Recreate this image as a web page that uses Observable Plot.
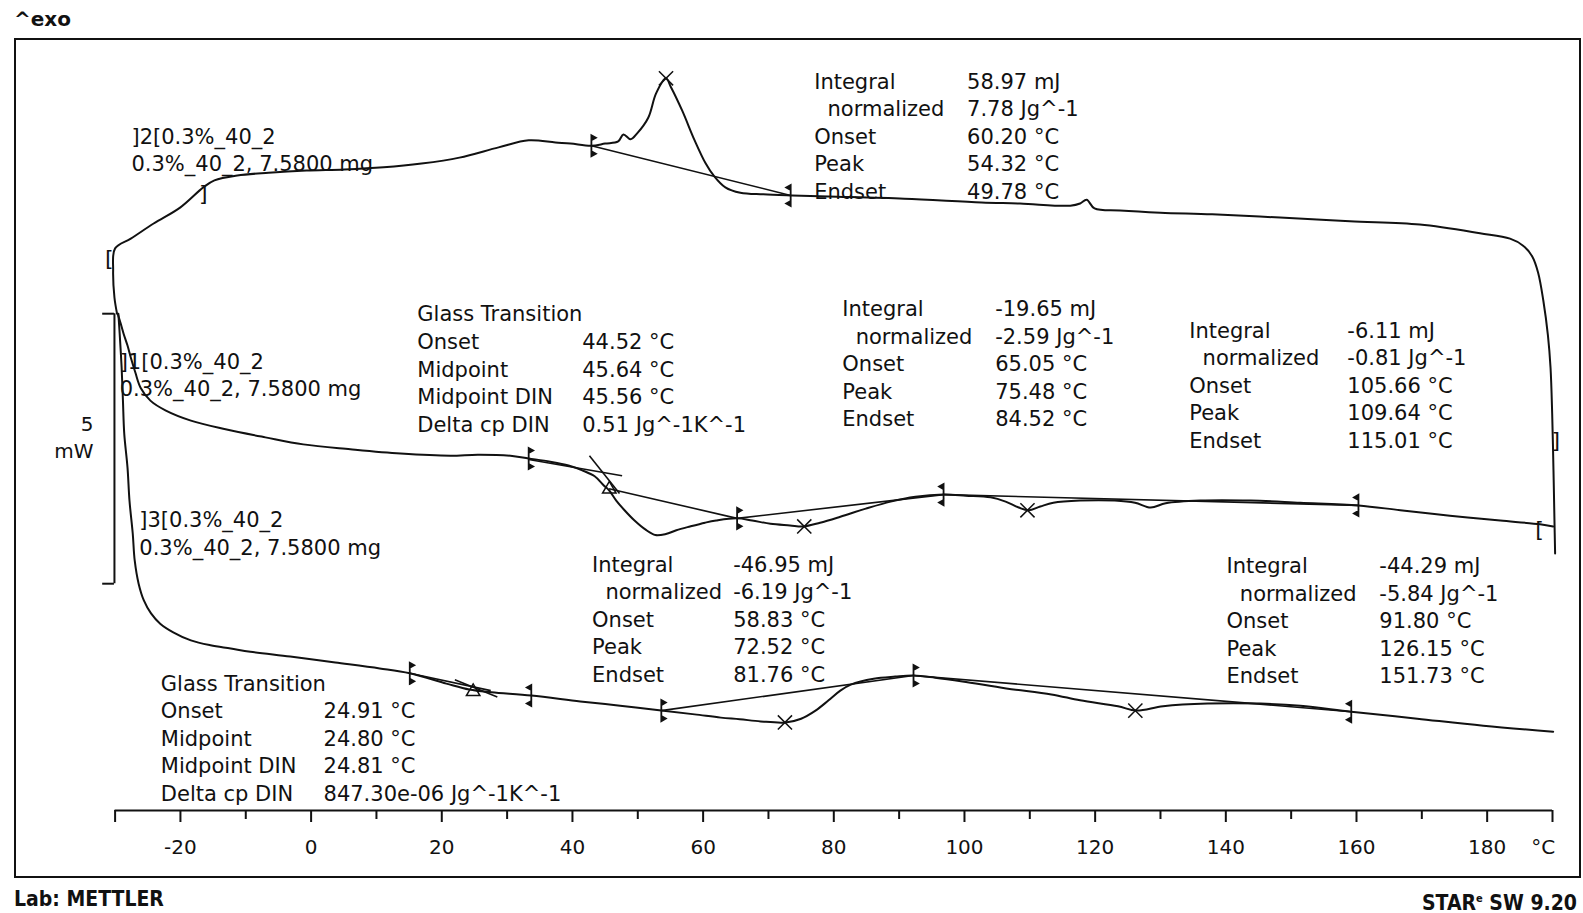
<!DOCTYPE html>
<html>
<head>
<meta charset="utf-8">
<script src="https://cdn.jsdelivr.net/npm/d3@7"></script>
<script src="https://cdn.jsdelivr.net/npm/@observablehq/plot@0.6"></script>
<style>
  html, body { margin: 0; padding: 0; background: #fff; overflow: hidden; }
  body { width: 1583px; height: 913px; position: relative; font-family: "DejaVu Sans", Verdana, sans-serif; color: #111; }
  #exo { position: absolute; left: 14px; top: 7px; font-size: 20px; font-weight: bold; line-height: 24px; }
  #chart { position: absolute; left: 0; top: 38px; }
  #frame { position: absolute; left: 14px; top: 38px; width: 1567px; height: 840px; border: 2px solid #111; box-sizing: border-box; pointer-events: none; z-index: 2; }
  .foot { position: absolute; top: 886px; font-family: "DejaVu Sans Condensed", "Liberation Sans Narrow", "DejaVu Sans", sans-serif; font-weight: bold; font-size: 21px; line-height: 26px; }
  #lab { left: 14px; }
  #star { right: 6px; }
  #star sup { font-size: 11px; vertical-align: 8px; }
</style>
</head>
<body>
<div id="exo">^exo</div>
<div id="chart"></div>
<div id="frame"></div>
<div id="lab" class="foot">Lab: METTLER</div>
<div id="star" class="foot">STAR<sup>e</sup> SW 9.20</div>
<script>
// DSC run on 0.3%_40_2 (7.5800 mg): heat flow in mW (curves offset), temperature in °C

// Segment 1: first heating
const heat1T = [-29.6, -29.2, -28.7, -28.1, -27.6, -26.9, -26.1, -24.6, -22.3, -18.4, -13.1, -7.0, -1.2, 6.0, 13.7, 21.3, 25.5, 30.5, 33.3, 36.6, 39.4, 41.5, 43.4, 44.8, 45.6, 46.7, 47.9, 49.5, 51.2, 52.7, 54.3, 55.9, 58.0, 60.3, 62.0, 65.2, 67.5, 70.3, 73.3, 75.3, 77.9, 81.0, 84.9, 88.7, 92.5, 96.8, 100.2, 104.0, 106.3, 108.3, 109.8, 111.6, 113.6, 117.7, 123.0, 126.1, 128.5, 130.8, 136.1, 143.8, 151.4, 160.3, 166.7, 174.3, 182.0, 188.1, 190.1];
const heat1Q = [9.20, 9.04, 8.83, 8.61, 8.39, 8.11, 7.83, 7.59, 7.41, 7.22, 7.06, 6.91, 6.78, 6.69, 6.61, 6.57, 6.59, 6.57, 6.52, 6.46, 6.39, 6.30, 6.19, 6.02, 5.93, 5.74, 5.57, 5.37, 5.20, 5.10, 5.12, 5.19, 5.26, 5.33, 5.37, 5.41, 5.37, 5.31, 5.28, 5.26, 5.33, 5.44, 5.59, 5.72, 5.81, 5.85, 5.83, 5.80, 5.72, 5.61, 5.56, 5.63, 5.70, 5.74, 5.74, 5.70, 5.61, 5.69, 5.74, 5.74, 5.70, 5.65, 5.56, 5.46, 5.37, 5.30, 5.26];

// Segment 2: cooling (190 °C down to -30 °C)
const coolT = [190.4, 190.3, 190.15, 189.95, 189.7, 189.3, 188.6, 187.8, 186.9, 185.5, 183.5, 178.9, 169.7, 159.0, 148.3, 137.9, 130.0, 123.8, 119.9, 118.7, 117.7, 116.2, 108.5, 102.6, 90.8, 79.2, 73.4, 69.2, 65.7, 63.4, 61.6, 60.4, 58.7, 56.8, 55.1, 54.3, 52.8, 51.6, 49.9, 48.9, 47.8, 47.0, 45.0, 42.9, 39.7, 37.4, 33.3, 28.7, 22.7, 16.9, 11.1, 5.1, -0.7, -6.5, -11.3, -14.8, -16.5, -20.0, -24.1, -27.6, -30.0, -30.3, -30.1, -29.7];
const coolQ = [4.76, 5.37, 6.30, 7.35, 8.20, 8.80, 9.44, 9.96, 10.26, 10.46, 10.59, 10.69, 10.85, 10.91, 10.98, 11.04, 11.07, 11.11, 11.15, 11.31, 11.24, 11.20, 11.24, 11.26, 11.33, 11.37, 11.39, 11.41, 11.44, 11.54, 11.76, 11.98, 12.41, 12.96, 13.39, 13.56, 13.28, 12.83, 12.54, 12.43, 12.52, 12.39, 12.35, 12.31, 12.35, 12.37, 12.41, 12.28, 12.09, 11.98, 11.91, 11.87, 11.85, 11.81, 11.76, 11.67, 11.54, 11.17, 10.87, 10.59, 10.41, 10.00, 9.50, 9.20];

// Segment 3: second heating
const heat2T = [-29.5, -29.3, -29.0, -28.8, -28.6, -28.1, -27.8, -27.3, -27.0, -26.4, -25.6, -24.5, -23.1, -21.1, -18.4, -15.4, -12.3, -9.3, -3.2, 3.7, 10.5, 15.1, 20.7, 24.2, 27.6, 33.7, 41.2, 47.3, 53.6, 58.7, 62.7, 65.6, 68.8, 72.6, 75.0, 77.2, 79.2, 81.0, 82.6, 86.1, 89.4, 92.2, 95.5, 99.7, 106.4, 113.3, 117.7, 123.5, 126.3, 130.4, 137.2, 145.3, 151.4, 159.2, 169.3, 179.4, 190.1];
const heat2Q = [9.20, 8.83, 8.20, 7.59, 6.98, 6.35, 5.74, 5.13, 4.63, 4.20, 3.89, 3.65, 3.46, 3.30, 3.15, 3.06, 3.00, 2.94, 2.85, 2.74, 2.63, 2.54, 2.35, 2.24, 2.19, 2.13, 2.02, 1.94, 1.85, 1.78, 1.72, 1.69, 1.65, 1.63, 1.70, 1.85, 2.04, 2.22, 2.33, 2.44, 2.48, 2.50, 2.46, 2.39, 2.26, 2.15, 2.04, 1.93, 1.85, 1.93, 1.98, 1.98, 1.94, 1.83, 1.70, 1.57, 1.46];

// Evaluation limits (integration / tangent construction points)
const limitT   = [42.9, 73.4, 33.3, 65.2, 96.8, 160.3, 15.1, 33.7, 53.6, 92.2, 159.2];
const limitQ   = [12.31, 11.39, 6.52, 5.41, 5.85, 5.65, 2.54, 2.13, 1.85, 2.50, 1.83];
const limitDir = ["R", "L", "R", "R", "L", "L", "R", "L", "R", "R", "L"];

// Peak temperatures (from the evaluation tables)
const peakT = [54.32, 75.48, 109.64, 72.52, 126.15];
const peakQ = [13.56, 5.26, 5.56, 1.63, 1.85];

// Glass transition midpoints
const tgT = [45.64, 24.80];
const tgQ = [5.95, 2.20];

// Baselines and tangents: [T1, Q1, T2, Q2]
const baselines = [
  [42.9, 12.31, 73.4, 11.39],
  [33.3, 6.50, 47.6, 6.20],
  [42.6, 6.57, 47.2, 5.87],
  [45.6, 5.96, 65.2, 5.41],
  [65.2, 5.41, 96.8, 5.85],
  [96.8, 5.85, 160.3, 5.65],
  [15.1, 2.54, 27.5, 2.22],
  [22.0, 2.42, 28.5, 2.10],
  [53.6, 1.85, 92.2, 2.50],
  [92.2, 2.50, 159.2, 1.83]
];

// Axis ticks
const majorTicks = [-20, 0, 20, 40, 60, 80, 100, 120, 140, 160, 180];
const minorTicks = [-10, 10, 30, 50, 70, 90, 110, 130, 150, 170];
const endTicks = [-30, 190];

// Scale bar (5 mW)
const scaleBarT = -30.1;
const scaleBarFrom = 4.2;
const scaleBarSpan = 5;

// Text
const sampleLabels = [
  "]2[0.3%_40_2\n0.3%_40_2, 7.5800 mg",
  "]1[0.3%_40_2\n0.3%_40_2, 7.5800 mg",
  "]3[0.3%_40_2\n0.3%_40_2, 7.5800 mg"
];
const peakLabelRows = ["Integral", "\u00a0\u00a0normalized", "Onset", "Peak", "Endset"];
const tgLabelRows = ["Glass Transition", "Onset", "Midpoint", "Midpoint DIN", "Delta cp DIN"];
const coolPeakValues = ["58.97 mJ", "7.78 Jg^-1", "60.20 °C", "54.32 °C", "49.78 °C"];
const heat1TgValues = ["44.52 °C", "45.64 °C", "45.56 °C", "0.51 Jg^-1K^-1"];
const heat1PeakAValues = ["-19.65 mJ", "-2.59 Jg^-1", "65.05 °C", "75.48 °C", "84.52 °C"];
const heat1PeakBValues = ["-6.11 mJ", "-0.81 Jg^-1", "105.66 °C", "109.64 °C", "115.01 °C"];
const heat2PeakAValues = ["-46.95 mJ", "-6.19 Jg^-1", "58.83 °C", "72.52 °C", "81.76 °C"];
const heat2PeakBValues = ["-44.29 mJ", "-5.84 Jg^-1", "91.80 °C", "126.15 °C", "151.73 °C"];
const heat2TgValues = ["24.91 °C", "24.80 °C", "24.81 °C", "847.30e-06 Jg^-1K^-1"];

// ---- build tables ----
const segments = [
  {run: "1", T: heat1T, Q: heat1Q},
  {run: "2", T: coolT, Q: coolQ},
  {run: "3", T: heat2T, Q: heat2Q}
];
const curvePoints = segments.flatMap(s => s.T.map((t, i) => ({run: s.run, T: t, Q: s.Q[i]})));
const limits = limitT.map((t, i) => ({T: t, Q: limitQ[i], dir: limitDir[i]}));
const peaks = peakT.map((t, i) => ({T: t, Q: peakQ[i]}));
const tgs = tgT.map((t, i) => ({T: t, Q: tgQ[i]}));
const links = baselines.map(([T1, Q1, T2, Q2]) => ({T1, Q1, T2, Q2}));

// annotation blocks placed in data coordinates (T, Q) of their left/centre
const blocks = [
  {T: -27.5, Q: 12.26, text: sampleLabels[0]},
  {T: -29.3, Q: 8.09, text: sampleLabels[1]},
  {T: -26.3, Q: 5.15, text: sampleLabels[2]},
  {T: 77.0, Q: 12.51, text: peakLabelRows.join("\n")},
  {T: 100.4, Q: 12.51, text: coolPeakValues.join("\n")},
  {T: 16.25, Q: 8.20, text: tgLabelRows.join("\n")},
  {T: 41.5, Q: 7.94, text: heat1TgValues.join("\n")},
  {T: 81.3, Q: 8.30, text: peakLabelRows.join("\n")},
  {T: 104.7, Q: 8.30, text: heat1PeakAValues.join("\n")},
  {T: 134.4, Q: 7.90, text: peakLabelRows.join("\n")},
  {T: 158.6, Q: 7.90, text: heat1PeakBValues.join("\n")},
  {T: 43.0, Q: 3.57, text: peakLabelRows.join("\n")},
  {T: 64.6, Q: 3.57, text: heat2PeakAValues.join("\n")},
  {T: 140.1, Q: 3.54, text: peakLabelRows.join("\n")},
  {T: 163.5, Q: 3.54, text: heat2PeakBValues.join("\n")},
  {T: -23.0, Q: 1.36, text: tgLabelRows.join("\n")},
  {T: 1.9, Q: 1.11, text: heat2TgValues.join("\n")}
];

// segment end brackets
const brackets = [
  {T: -30.9, Q: 10.22, text: "["},
  {T: -16.5, Q: 11.42, text: "]"},
  {T: 188.0, Q: 5.20, text: "["},
  {T: 190.5, Q: 6.85, text: "]"}
];

// limit flag symbols: a bar with small filled flags at both ends
function flagSymbol(dir) {
  return {
    draw(ctx, size) {
      const r = Math.sqrt(size / Math.PI);
      const w = 4.5 * dir;
      ctx.moveTo(0, -r); ctx.lineTo(0, r);
      ctx.moveTo(0, -r); ctx.lineTo(w, -r + 2.5); ctx.lineTo(0, -r + 5); ctx.closePath();
      ctx.moveTo(0, r); ctx.lineTo(w, r - 2.5); ctx.lineTo(0, r - 5); ctx.closePath();
    }
  };
}

const fmt = d => (d < 0 ? "-" : "") + Math.abs(d);
const font = "'DejaVu Sans', Verdana, sans-serif";

const chart = Plot.plot({
  width: 1583,
  height: 840,
  marginLeft: 114.6,
  marginRight: 31,
  marginTop: 0,
  marginBottom: 68,
  x: {domain: [-30, 190], label: null},
  y: {domain: [0, 772 / 54], label: null, axis: null},
  style: {fontFamily: font, fontSize: "21px", background: "transparent", color: "#111", overflow: "visible"},
  marks: [
    // temperature axis
    Plot.ruleY([0], {stroke: "#111", strokeWidth: 2}),
    Plot.axisX({ticks: majorTicks, tickSize: 12, tickPadding: 17, tickFormat: fmt, fontSize: 20, strokeWidth: 2, label: null}),
    Plot.axisX({ticks: minorTicks, tickSize: 9, tickFormat: () => "", strokeWidth: 2, label: null}),
    Plot.axisX({ticks: endTicks, tickSize: 12, tickFormat: () => "", strokeWidth: 2, label: null}),
    Plot.text([{T: 188.6, Q: 0}], {x: "T", y: "Q", text: () => "°C", dy: 37, fontSize: 20}),

    // scale bar
    Plot.ruleX([{T: scaleBarT}], {x: "T", y1: scaleBarFrom, y2: scaleBarFrom + scaleBarSpan, stroke: "#111", strokeWidth: 2}),
    Plot.ruleY([scaleBarFrom, scaleBarFrom + scaleBarSpan], {x1: scaleBarT - 1.8, x2: scaleBarT, stroke: "#111", strokeWidth: 2}),
    Plot.text([{T: scaleBarT - 3.2, Q: 7.15, t: String(scaleBarSpan)}, {T: scaleBarT - 3.2, Q: 6.65, t: "mW"}],
      {x: "T", y: "Q", text: "t", textAnchor: "end", fontSize: 20}),

    // baselines and tangents
    Plot.link(links, {x1: "T1", y1: "Q1", x2: "T2", y2: "Q2", stroke: "#111", strokeWidth: 1.6}),

    // measured curves
    Plot.line(curvePoints, {x: "T", y: "Q", z: "run", stroke: "#111", strokeWidth: 2, curve: "catmull-rom"}),

    // evaluation markers
    Plot.dot(limits.filter(d => d.dir === "R"), {x: "T", y: "Q", r: 10.5, symbol: flagSymbol(1), fill: "#111", stroke: "#111", strokeWidth: 1.8}),
    Plot.dot(limits.filter(d => d.dir === "L"), {x: "T", y: "Q", r: 10.5, symbol: flagSymbol(-1), fill: "#111", stroke: "#111", strokeWidth: 1.8}),
    Plot.dot(peaks, {x: "T", y: "Q", r: 6.5, symbol: "times", stroke: "#111", strokeWidth: 1.5}),
    Plot.dot(tgs, {x: "T", y: "Q", r: 5, symbol: "triangle", fill: "none", stroke: "#111", strokeWidth: 1.5}),
    Plot.text(brackets, {x: "T", y: "Q", text: "text", fontSize: 22}),

    // annotation text
    Plot.text(blocks, {x: "T", y: "Q", text: "text", textAnchor: "start", lineAnchor: "middle", lineHeight: 1.31, fontSize: 21, fill: "#111"})
  ]
});

document.getElementById("chart").append(chart);
</script>
</body>
</html>
